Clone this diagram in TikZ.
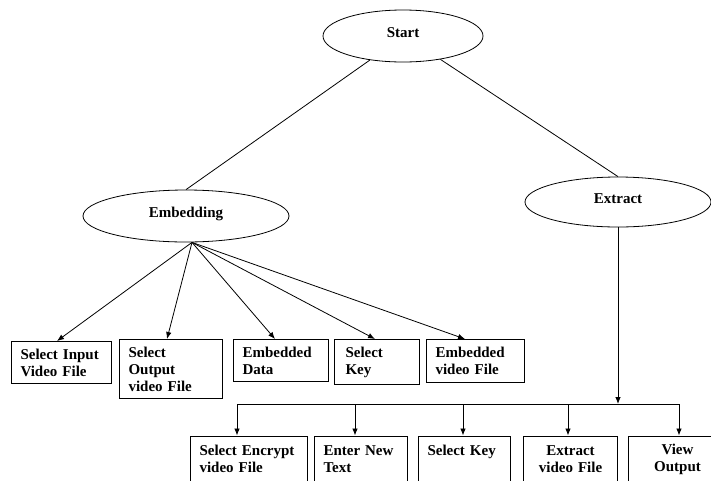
\documentclass[tikz,border=0pt]{standalone}
\usepackage{fontspec}
\setmainfont{Liberation Serif}
\usetikzlibrary{shapes.geometric,arrows.meta}
\tikzset{
  oval/.style={draw, ellipse, line width=0.8pt, inner sep=0pt, text height=10pt, text depth=8pt, font=\fontsize{15}{17}\selectfont\bfseries},
  box/.style={draw, line width=1pt, inner xsep=9pt, inner ysep=0pt, anchor=north west, align=left, font=\fontsize{15}{17}\selectfont\bfseries},
  cbox/.style={box, align=center},
  link/.style={line width=0.8pt},
  arr/.style={line width=0.8pt, -{Latex[length=7pt,width=5.5pt]}}
}
\begin{document}
\begin{tikzpicture}[x=1pt,y=-1pt]
\useasboundingbox (0,0) rectangle (711,480);
\clip (0,0) rectangle (711,480);
% ellipses
\node[oval, minimum width=160pt, minimum height=52pt] (start) at (403,36) {Start};
\node[oval, minimum width=206pt, minimum height=52pt] (emb) at (186,216) {Embedding};
\node[oval, minimum width=186pt, minimum height=50pt] (ext) at (618,202) {Extract};
% first row
\node[box, text width=82pt, minimum height=42pt] (b1) at (11,341) {Select Input\\Video File};
\node[box, text width=85pt, minimum height=59pt] (b2) at (119,339) {Select\\Output\\video File};
\node[box, text width=77pt, minimum height=42pt] (b3) at (233,339) {Embedded\\Data};
\node[box, text width=67pt, minimum height=45pt, inner xsep=9pt] (b4) at (334,339) {\hspace*{2pt}Select\\\hspace*{2pt}Key};
\node[box, text width=80pt, minimum height=43pt] (b5) at (426,339) {Embedded\\video File};
% second row
\node[box, text width=99pt, minimum height=46pt] (c1) at (190,435.5) {Select Encrypt\\video File};
\node[box, text width=75pt, minimum height=46pt] (c2) at (314,435.5) {Enter New\\Text};
\node[box, text width=74pt, minimum height=46pt] (c3) at (418,435.5) {Select Key\\\mbox{}};
\node[cbox, text width=76pt, minimum height=46pt] (c4) at (523,435.5) {Extract\\video File};
\node[cbox, text width=80pt, minimum height=46pt] (c5) at (628,435.5) {View\\Output};
% connectors from start
\draw[link] (start.216) -- (emb.north);
\draw[link] (start.328) -- (ext.north);
% embedding fan
\coordinate (ef) at ([xshift=6pt]emb.south);
\draw[arr] (ef) -- ([xshift=46pt]b1.north west);
\draw[arr] (ef) -- ([xshift=48pt]b2.north west);
\draw[arr] (ef) -- ([xshift=42pt]b3.north west);
\draw[arr] (ef) -- ([xshift=41pt]b4.north west);
\draw[arr] (ef) -- ([xshift=39pt]b5.north west);
% extract bus
\coordinate (bus) at (0,404);
\coordinate (d1) at ([xshift=47pt]c1.north west);
\coordinate (d2) at ([xshift=41pt]c2.north west);
\coordinate (d3) at ([xshift=45pt]c3.north west);
\coordinate (d4) at ([xshift=45pt]c4.north west);
\coordinate (d5) at ([xshift=51pt]c5.north west);
\draw[arr] (ext.south) -- (ext.south |- bus);
\draw[link] (d1 |- bus) -- (d5 |- bus);
\draw[arr] (d1 |- bus) -- (d1);
\draw[arr] (d2 |- bus) -- (d2);
\draw[arr] (d3 |- bus) -- (d3);
\draw[arr] (d4 |- bus) -- (d4);
\draw[arr] (d5 |- bus) -- (d5);
\end{tikzpicture}
\end{document}
